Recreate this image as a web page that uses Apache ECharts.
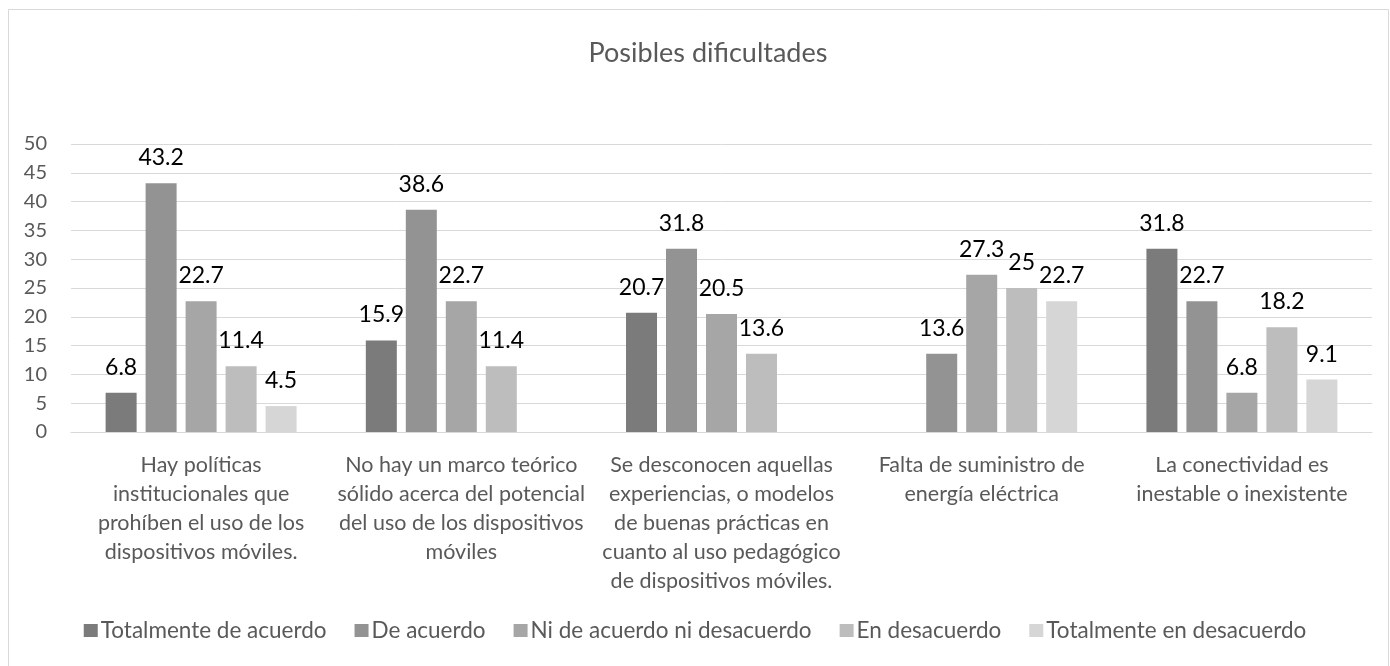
<!DOCTYPE html>
<html>
<head>
<meta charset="utf-8">
<script src="https://cdn.jsdelivr.net/npm/echarts@6/dist/echarts.min.js"></script>
<style>
  html, body { margin: 0; padding: 0; background: #fff; }
  #chart { width: 1390px; height: 666px; }
</style>
</head>
<body>
<div id="chart"></div>
<script>
const categories = [
  'Hay políticas\ninstitucionales que\nprohíben el uso de los\ndispositivos móviles.',
  'No hay un marco teórico\nsólido acerca del potencial\ndel uso de los dispositivos\nmóviles',
  'Se desconocen aquellas\nexperiencias, o modelos\nde buenas prácticas en\ncuanto al uso pedagógico\nde dispositivos móviles.',
  'Falta de suministro de\nenergía eléctrica',
  'La conectividad es\ninestable o inexistente'
]
const seriesNames = [
  'Totalmente de acuerdo',
  'De acuerdo',
  'Ni de acuerdo ni desacuerdo',
  'En desacuerdo',
  'Totalmente en desacuerdo'
]
const totalmenteDeAcuerdo = [6.8, 15.9, 20.7, null, 31.8]
const deAcuerdo = [43.2, 38.6, 31.8, 13.6, 22.7]
const niDeAcuerdo = [22.7, 22.7, 20.5, 27.3, 6.8]
const enDesacuerdo = [11.4, 11.4, 13.6, 25, 18.2]
const totalmenteEnDesacuerdo = [4.5, null, null, 22.7, 9.1]
const yTicks = [0, 50, 5]

const colors = ['#7b7b7b', '#939393', '#a6a6a6', '#bdbdbd', '#d6d6d6']
const values = [totalmenteDeAcuerdo, deAcuerdo, niDeAcuerdo, enDesacuerdo, totalmenteEnDesacuerdo]
const font = 'Lato, "Noto Sans", sans-serif'

const chart = echarts.init(document.getElementById('chart'))

const option = {
  animation: false,
  textStyle: { fontFamily: font },
  title: {
    text: 'Posibles dificultades',
    left: 703,
    top: 35,
    textAlign: 'center',
    textStyle: { fontFamily: font, fontSize: 27, fontWeight: 'normal', color: '#595959' }
  },
  graphic: [{
    type: 'rect',
    shape: { x: 8.5, y: 9.5, width: 1380, height: 670 },
    style: { fill: 'none', stroke: '#d9d9d9', lineWidth: 1 },
    silent: true
  }],
  grid: { left: 71, right: 18, top: 144, bottom: 234 },
  legend: {
    data: seriesNames,
    bottom: 19,
    left: 'center',
    itemWidth: 14,
    itemHeight: 13,
    itemGap: 28,
    icon: 'rect',
    textStyle: { fontFamily: font, fontSize: 22.5, color: '#595959', padding: [0, 0, 0, -2] }
  },
  xAxis: {
    type: 'category',
    data: categories,
    axisLine: { lineStyle: { color: '#d9d9d9' } },
    axisTick: { show: false },
    axisLabel: {
      interval: 0,
      margin: 19,
      fontFamily: font,
      fontSize: 21.5,
      lineHeight: 29,
      color: '#595959'
    }
  },
  yAxis: {
    type: 'value',
    min: yTicks[0],
    max: yTicks[1],
    interval: yTicks[2],
    axisLine: { show: false },
    axisTick: { show: false },
    axisLabel: { fontFamily: font, fontSize: 20, color: '#595959', margin: 24, align: 'right' },
    splitLine: { lineStyle: { color: '#d9d9d9', width: 1 } }
  },
  series: seriesNames.map((name, i) => ({
    name,
    type: 'bar',
    data: values[i],
    barWidth: 31,
    barGap: '29%',
    itemStyle: { color: colors[i] },
    label: {
      show: true,
      position: 'top',
      distance: 14,
      fontFamily: font,
      fontSize: 23,
      color: '#000'
    }
  }))
}

chart.setOption(option)
</script>
</body>
</html>
